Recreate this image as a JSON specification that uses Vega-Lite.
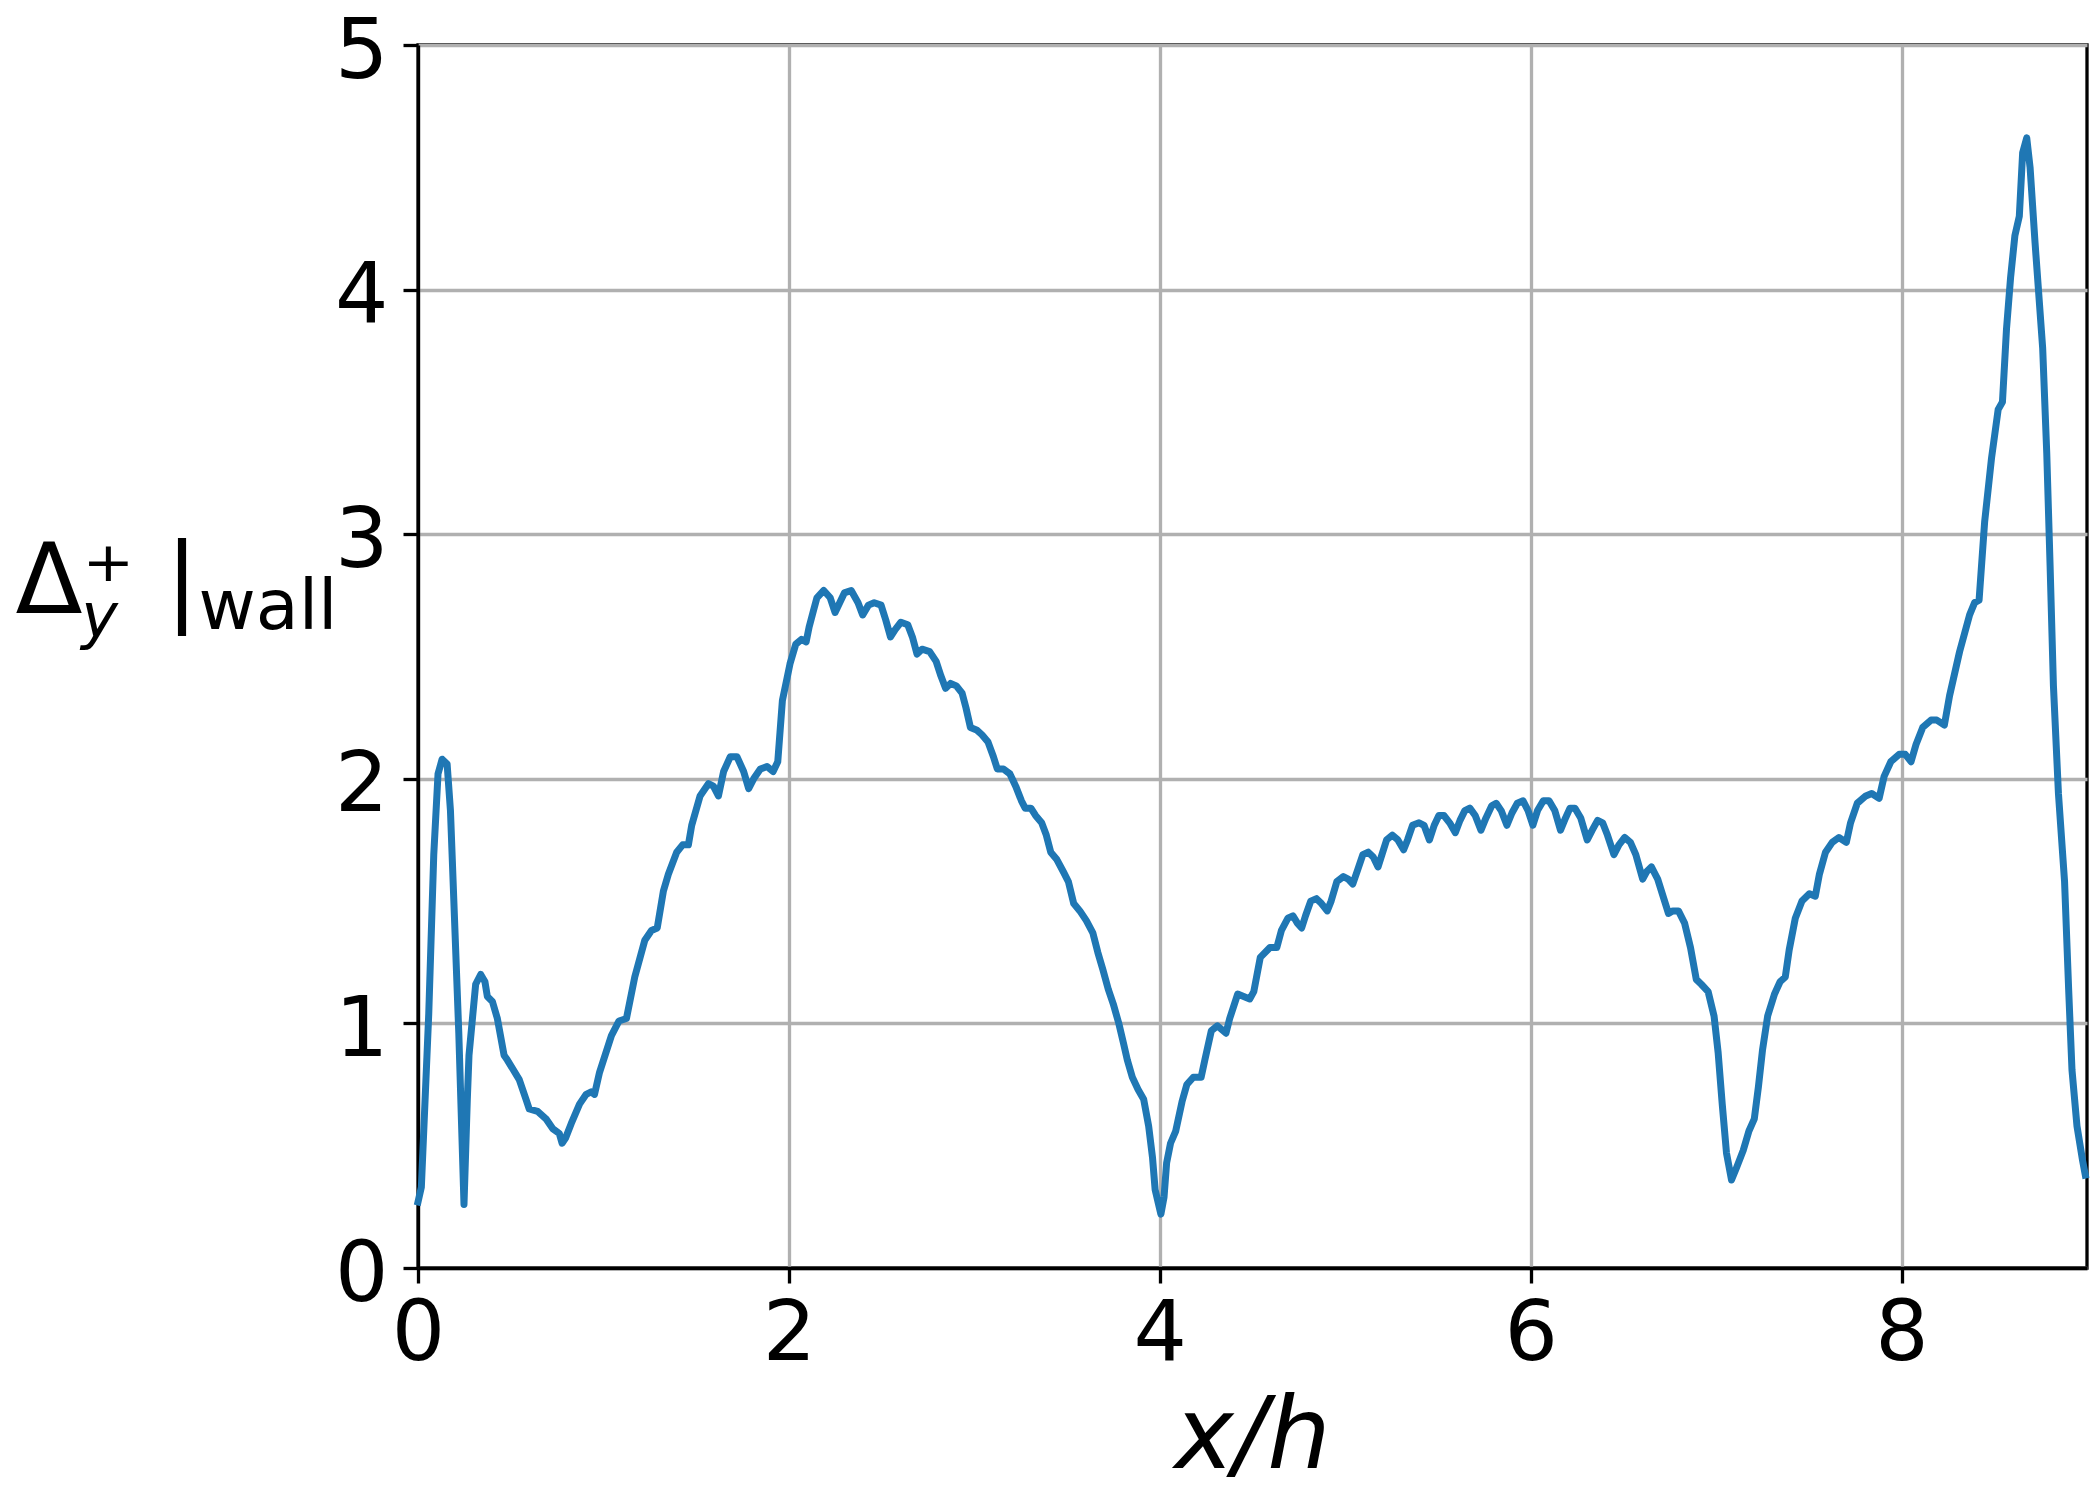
{
  "$schema": "https://vega.github.io/schema/vega-lite/v6.json",
  "width": 1669,
  "height": 1223,
  "autosize": {"type": "none"},
  "padding": {"left": 418, "top": 45, "right": 13, "bottom": 232},
  "background": "white",
  "config": {
    "view": {"stroke": "black", "strokeWidth": 3.3},
    "font": "DejaVu Sans",
    "axis": {"labelFont": "DejaVu Sans", "titleFont": "DejaVu Sans", "labelColor": "black", "titleColor": "black", "titleFontWeight": "normal"}
  },
  "data": {
    "values": [
      {"x": 0, "y": 0.27}, {"x": 0.018, "y": 0.33}, {"x": 0.058, "y": 1.04}, {"x": 0.085, "y": 1.69},
      {"x": 0.108, "y": 2.02}, {"x": 0.13, "y": 2.08}, {"x": 0.157, "y": 2.06}, {"x": 0.175, "y": 1.87},
      {"x": 0.22, "y": 0.96}, {"x": 0.248, "y": 0.26}, {"x": 0.266, "y": 0.69}, {"x": 0.275, "y": 0.87},
      {"x": 0.311, "y": 1.16}, {"x": 0.338, "y": 1.2}, {"x": 0.361, "y": 1.17}, {"x": 0.374, "y": 1.11},
      {"x": 0.401, "y": 1.09}, {"x": 0.428, "y": 1.02}, {"x": 0.464, "y": 0.87}, {"x": 0.482, "y": 0.85},
      {"x": 0.546, "y": 0.77}, {"x": 0.582, "y": 0.69}, {"x": 0.6, "y": 0.65}, {"x": 0.645, "y": 0.64},
      {"x": 0.69, "y": 0.61}, {"x": 0.726, "y": 0.57}, {"x": 0.762, "y": 0.55}, {"x": 0.777, "y": 0.51},
      {"x": 0.795, "y": 0.53}, {"x": 0.826, "y": 0.59}, {"x": 0.871, "y": 0.67}, {"x": 0.907, "y": 0.71},
      {"x": 0.934, "y": 0.72}, {"x": 0.952, "y": 0.71}, {"x": 0.979, "y": 0.8}, {"x": 1.043, "y": 0.95},
      {"x": 1.084, "y": 1.01}, {"x": 1.124, "y": 1.02}, {"x": 1.169, "y": 1.19}, {"x": 1.223, "y": 1.34},
      {"x": 1.259, "y": 1.38}, {"x": 1.29, "y": 1.39}, {"x": 1.323, "y": 1.54}, {"x": 1.35, "y": 1.61},
      {"x": 1.395, "y": 1.7}, {"x": 1.427, "y": 1.73}, {"x": 1.458, "y": 1.73}, {"x": 1.476, "y": 1.81},
      {"x": 1.521, "y": 1.93}, {"x": 1.566, "y": 1.98}, {"x": 1.593, "y": 1.97}, {"x": 1.62, "y": 1.93},
      {"x": 1.648, "y": 2.03}, {"x": 1.684, "y": 2.09}, {"x": 1.72, "y": 2.09}, {"x": 1.756, "y": 2.03},
      {"x": 1.783, "y": 1.96}, {"x": 1.81, "y": 2.0}, {"x": 1.846, "y": 2.04}, {"x": 1.882, "y": 2.05},
      {"x": 1.915, "y": 2.03}, {"x": 1.94, "y": 2.07}, {"x": 1.965, "y": 2.32}, {"x": 2.006, "y": 2.47},
      {"x": 2.037, "y": 2.55}, {"x": 2.068, "y": 2.57}, {"x": 2.093, "y": 2.56}, {"x": 2.109, "y": 2.62},
      {"x": 2.13, "y": 2.68}, {"x": 2.151, "y": 2.74}, {"x": 2.188, "y": 2.77}, {"x": 2.223, "y": 2.74},
      {"x": 2.249, "y": 2.68}, {"x": 2.274, "y": 2.72}, {"x": 2.299, "y": 2.76}, {"x": 2.336, "y": 2.77},
      {"x": 2.373, "y": 2.72}, {"x": 2.398, "y": 2.67}, {"x": 2.429, "y": 2.71}, {"x": 2.46, "y": 2.72},
      {"x": 2.497, "y": 2.71}, {"x": 2.522, "y": 2.65}, {"x": 2.548, "y": 2.58}, {"x": 2.573, "y": 2.61},
      {"x": 2.604, "y": 2.64}, {"x": 2.641, "y": 2.63}, {"x": 2.666, "y": 2.58}, {"x": 2.691, "y": 2.51},
      {"x": 2.718, "y": 2.53}, {"x": 2.759, "y": 2.52}, {"x": 2.794, "y": 2.48}, {"x": 2.82, "y": 2.42},
      {"x": 2.845, "y": 2.37}, {"x": 2.872, "y": 2.39}, {"x": 2.903, "y": 2.38}, {"x": 2.934, "y": 2.35},
      {"x": 2.955, "y": 2.29}, {"x": 2.979, "y": 2.21}, {"x": 3.012, "y": 2.2}, {"x": 3.041, "y": 2.18},
      {"x": 3.074, "y": 2.15}, {"x": 3.103, "y": 2.09}, {"x": 3.124, "y": 2.04}, {"x": 3.157, "y": 2.04},
      {"x": 3.192, "y": 2.02}, {"x": 3.223, "y": 1.97}, {"x": 3.254, "y": 1.91}, {"x": 3.274, "y": 1.88},
      {"x": 3.305, "y": 1.88}, {"x": 3.33, "y": 1.85}, {"x": 3.363, "y": 1.82}, {"x": 3.388, "y": 1.77},
      {"x": 3.412, "y": 1.7}, {"x": 3.445, "y": 1.67}, {"x": 3.48, "y": 1.62}, {"x": 3.507, "y": 1.58},
      {"x": 3.536, "y": 1.49}, {"x": 3.569, "y": 1.46}, {"x": 3.604, "y": 1.42}, {"x": 3.639, "y": 1.37},
      {"x": 3.666, "y": 1.29}, {"x": 3.693, "y": 1.22}, {"x": 3.722, "y": 1.14}, {"x": 3.749, "y": 1.08},
      {"x": 3.779, "y": 1.0}, {"x": 3.804, "y": 0.92}, {"x": 3.825, "y": 0.85}, {"x": 3.852, "y": 0.78},
      {"x": 3.883, "y": 0.73}, {"x": 3.913, "y": 0.69}, {"x": 3.94, "y": 0.58}, {"x": 3.961, "y": 0.45},
      {"x": 3.975, "y": 0.32}, {"x": 4.006, "y": 0.22}, {"x": 4.023, "y": 0.29}, {"x": 4.037, "y": 0.43},
      {"x": 4.058, "y": 0.51}, {"x": 4.086, "y": 0.56}, {"x": 4.12, "y": 0.68}, {"x": 4.146, "y": 0.75},
      {"x": 4.181, "y": 0.78}, {"x": 4.223, "y": 0.78}, {"x": 4.243, "y": 0.85}, {"x": 4.278, "y": 0.97},
      {"x": 4.311, "y": 0.99}, {"x": 4.357, "y": 0.96}, {"x": 4.377, "y": 1.02}, {"x": 4.42, "y": 1.12},
      {"x": 4.485, "y": 1.1}, {"x": 4.507, "y": 1.13}, {"x": 4.542, "y": 1.27}, {"x": 4.594, "y": 1.31},
      {"x": 4.631, "y": 1.31}, {"x": 4.656, "y": 1.38}, {"x": 4.691, "y": 1.43}, {"x": 4.718, "y": 1.44},
      {"x": 4.742, "y": 1.41}, {"x": 4.765, "y": 1.39}, {"x": 4.786, "y": 1.44}, {"x": 4.814, "y": 1.5},
      {"x": 4.845, "y": 1.51}, {"x": 4.872, "y": 1.49}, {"x": 4.903, "y": 1.46}, {"x": 4.924, "y": 1.5},
      {"x": 4.955, "y": 1.58}, {"x": 4.99, "y": 1.6}, {"x": 5.016, "y": 1.59}, {"x": 5.041, "y": 1.57},
      {"x": 5.068, "y": 1.63}, {"x": 5.095, "y": 1.69}, {"x": 5.124, "y": 1.7}, {"x": 5.151, "y": 1.68},
      {"x": 5.177, "y": 1.64}, {"x": 5.198, "y": 1.69}, {"x": 5.223, "y": 1.75}, {"x": 5.254, "y": 1.77},
      {"x": 5.284, "y": 1.75}, {"x": 5.315, "y": 1.71}, {"x": 5.336, "y": 1.75}, {"x": 5.363, "y": 1.81},
      {"x": 5.398, "y": 1.82}, {"x": 5.425, "y": 1.81}, {"x": 5.454, "y": 1.75}, {"x": 5.48, "y": 1.81},
      {"x": 5.505, "y": 1.85}, {"x": 5.532, "y": 1.85}, {"x": 5.563, "y": 1.82}, {"x": 5.594, "y": 1.78},
      {"x": 5.619, "y": 1.83}, {"x": 5.645, "y": 1.87}, {"x": 5.672, "y": 1.88}, {"x": 5.701, "y": 1.85},
      {"x": 5.732, "y": 1.79}, {"x": 5.759, "y": 1.84}, {"x": 5.79, "y": 1.89}, {"x": 5.814, "y": 1.9},
      {"x": 5.841, "y": 1.87}, {"x": 5.872, "y": 1.81}, {"x": 5.899, "y": 1.86}, {"x": 5.928, "y": 1.9},
      {"x": 5.959, "y": 1.91}, {"x": 5.986, "y": 1.87}, {"x": 6.012, "y": 1.81}, {"x": 6.037, "y": 1.87},
      {"x": 6.068, "y": 1.91}, {"x": 6.099, "y": 1.91}, {"x": 6.13, "y": 1.87}, {"x": 6.161, "y": 1.79},
      {"x": 6.188, "y": 1.84}, {"x": 6.212, "y": 1.88}, {"x": 6.239, "y": 1.88}, {"x": 6.27, "y": 1.84},
      {"x": 6.305, "y": 1.75}, {"x": 6.332, "y": 1.79}, {"x": 6.361, "y": 1.83}, {"x": 6.388, "y": 1.82},
      {"x": 6.414, "y": 1.77}, {"x": 6.449, "y": 1.69}, {"x": 6.476, "y": 1.73}, {"x": 6.507, "y": 1.76},
      {"x": 6.538, "y": 1.74}, {"x": 6.567, "y": 1.69}, {"x": 6.604, "y": 1.59}, {"x": 6.625, "y": 1.62},
      {"x": 6.651, "y": 1.64}, {"x": 6.685, "y": 1.59}, {"x": 6.718, "y": 1.51}, {"x": 6.743, "y": 1.45},
      {"x": 6.767, "y": 1.46}, {"x": 6.797, "y": 1.46}, {"x": 6.83, "y": 1.41}, {"x": 6.862, "y": 1.31},
      {"x": 6.893, "y": 1.18}, {"x": 6.92, "y": 1.16}, {"x": 6.957, "y": 1.13}, {"x": 6.989, "y": 1.03},
      {"x": 7.011, "y": 0.88}, {"x": 7.033, "y": 0.67}, {"x": 7.056, "y": 0.47}, {"x": 7.083, "y": 0.36},
      {"x": 7.11, "y": 0.41}, {"x": 7.146, "y": 0.48}, {"x": 7.177, "y": 0.56}, {"x": 7.206, "y": 0.61},
      {"x": 7.228, "y": 0.74}, {"x": 7.25, "y": 0.89}, {"x": 7.278, "y": 1.03}, {"x": 7.315, "y": 1.12},
      {"x": 7.345, "y": 1.17}, {"x": 7.373, "y": 1.19}, {"x": 7.394, "y": 1.3}, {"x": 7.427, "y": 1.43},
      {"x": 7.463, "y": 1.5}, {"x": 7.503, "y": 1.53}, {"x": 7.535, "y": 1.52}, {"x": 7.557, "y": 1.61},
      {"x": 7.59, "y": 1.7}, {"x": 7.626, "y": 1.74}, {"x": 7.662, "y": 1.76}, {"x": 7.702, "y": 1.74},
      {"x": 7.725, "y": 1.82}, {"x": 7.761, "y": 1.9}, {"x": 7.807, "y": 1.93}, {"x": 7.839, "y": 1.94},
      {"x": 7.879, "y": 1.92}, {"x": 7.906, "y": 2.01}, {"x": 7.942, "y": 2.07}, {"x": 7.987, "y": 2.1},
      {"x": 8.02, "y": 2.1}, {"x": 8.051, "y": 2.07}, {"x": 8.078, "y": 2.14}, {"x": 8.114, "y": 2.21},
      {"x": 8.159, "y": 2.24}, {"x": 8.19, "y": 2.24}, {"x": 8.231, "y": 2.22}, {"x": 8.259, "y": 2.34},
      {"x": 8.313, "y": 2.52}, {"x": 8.367, "y": 2.67}, {"x": 8.394, "y": 2.72}, {"x": 8.418, "y": 2.73},
      {"x": 8.448, "y": 3.05}, {"x": 8.485, "y": 3.31}, {"x": 8.521, "y": 3.51}, {"x": 8.544, "y": 3.54},
      {"x": 8.566, "y": 3.84}, {"x": 8.588, "y": 4.05}, {"x": 8.611, "y": 4.22}, {"x": 8.635, "y": 4.3},
      {"x": 8.653, "y": 4.56}, {"x": 8.675, "y": 4.62}, {"x": 8.693, "y": 4.5}, {"x": 8.72, "y": 4.19},
      {"x": 8.761, "y": 3.76}, {"x": 8.783, "y": 3.33}, {"x": 8.801, "y": 2.87}, {"x": 8.819, "y": 2.38},
      {"x": 8.846, "y": 1.94}, {"x": 8.879, "y": 1.58}, {"x": 8.901, "y": 1.14}, {"x": 8.919, "y": 0.81},
      {"x": 8.946, "y": 0.58}, {"x": 8.976, "y": 0.44}, {"x": 8.991, "y": 0.38}
    ]
  },
  "layer": [
    {
      "mark": {"type": "line", "color": "#1f77b4", "strokeWidth": 7, "strokeJoin": "round", "strokeCap": "square"},
      "encoding": {
        "x": {
          "field": "x", "type": "quantitative",
          "scale": {"domain": [0, 9], "nice": false, "zero": false},
          "axis": {
            "orient": "bottom", "values": [0, 2, 4, 6, 8],
            "title": "x/h", "titleFontStyle": "italic", "titleFontSize": 100,
            "titleAlign": "center", "titleBaseline": "alphabetic", "titleX": 834, "titleY": 199, "titleAngle": 0,
            "labelFontSize": 84, "labelPadding": 10, "labelFlush": false, "labelOverlap": false, "labelBound": false,
            "tickSize": 15, "tickWidth": 3.3, "tickColor": "black",
            "domainColor": "black", "domainWidth": 3.3,
            "grid": true, "gridColor": "#b0b0b0", "gridWidth": 3.3
          }
        },
        "y": {
          "field": "y", "type": "quantitative",
          "scale": {"domain": [0, 5], "nice": false, "zero": false},
          "axis": {
            "orient": "left", "values": [0, 1, 2, 3, 4, 5],
            "title": "Δ⁺ |", "titleFontSize": 98, "titleAngle": 0,
            "titleAlign": "left", "titleBaseline": "alphabetic", "titleX": -403, "titleY": 567,
            "labelFontSize": 84, "labelPadding": 15, "labelOffset": 7, "labelFlush": false, "labelOverlap": false, "labelBound": false,
            "tickSize": 15, "tickWidth": 3.3, "tickColor": "black",
            "domainColor": "black", "domainWidth": 3.3,
            "grid": true, "gridColor": "#b0b0b0", "gridWidth": 3.3
          }
        }
      }
    },
    {
      "mark": {"type": "line", "strokeOpacity": 0},
      "encoding": {
        "x": {
          "field": "x", "type": "quantitative",
          "axis": {
            "orient": "top", "labels": false, "ticks": false, "domain": false, "grid": false,
            "title": "wall", "titleFontSize": 70, "titleAngle": 0,
            "titleAlign": "left", "titleBaseline": "alphabetic", "titleX": -220, "titleY": 583
          }
        },
        "y": {
          "field": "y", "type": "quantitative",
          "axis": {
            "orient": "right", "labels": false, "ticks": false, "domain": false, "grid": false,
            "title": "y", "titleFontSize": 62, "titleFontStyle": "italic", "titleAngle": 0,
            "titleAlign": "center", "titleBaseline": "alphabetic", "titleX": -1988, "titleY": 591
          }
        }
      }
    }
  ],
  "resolve": {"axis": {"x": "independent", "y": "independent"}}
}
